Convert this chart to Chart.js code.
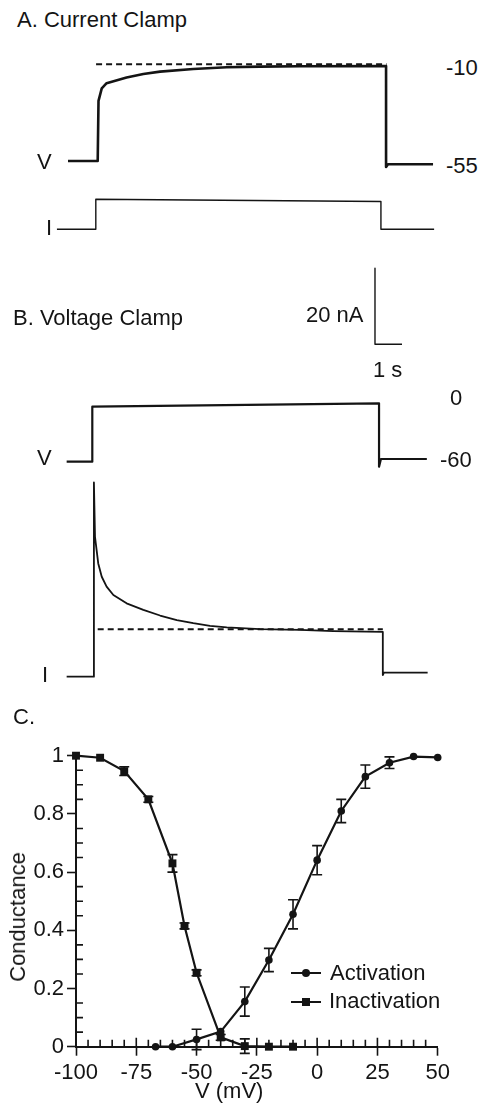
<!DOCTYPE html>
<html>
<head>
<meta charset="utf-8">
<script src="https://cdn.jsdelivr.net/npm/chart.js@4"></script>
<style>
  html, body { margin: 0; padding: 0; background: #fff; }
  #fig { position: relative; width: 486px; height: 1108px; overflow: hidden; background: #fff;
         font-family: "Liberation Sans", Arial, sans-serif; color: #141414; }
  #fig canvas { position: absolute; }
  .lbl { position: absolute; font-size: 22px; line-height: 22px; white-space: nowrap; }
  .rot { transform: translate(-50%, -50%) rotate(-90deg); }
  .lg-line { position: absolute; height: 2px; width: 30px; background: #141414; }
  .lg-dot { position: absolute; width: 8px; height: 8px; border-radius: 50%; background: #141414; }
  .lg-sq { position: absolute; width: 8px; height: 8px; background: #141414; }
</style>
</head>
<body>
<div id="fig">
  <canvas id="chartA" width="405" height="190" style="left:40px;top:50px"></canvas>
  <canvas id="chartB" width="405" height="430" style="left:40px;top:260px"></canvas>
  <canvas id="chartC" width="486" height="373" style="left:0px;top:735px"></canvas>

  <div class="lbl" style="left:17px;top:9px">A. Current Clamp</div>
  <div class="lbl" style="left:446px;top:57px">-10</div>
  <div class="lbl" style="left:446px;top:155px">-55</div>
  <div class="lbl" style="left:37px;top:151px">V</div>
  <div class="lbl" style="left:46px;top:217px">I</div>

  <div class="lbl" style="left:13px;top:307px">B. Voltage Clamp</div>
  <div class="lbl" style="left:306px;top:304px">20 nA</div>
  <div class="lbl" style="left:373px;top:359px">1 s</div>
  <div class="lbl" style="left:450px;top:387px">0</div>
  <div class="lbl" style="left:440px;top:449px">-60</div>
  <div class="lbl" style="left:37px;top:447px">V</div>
  <div class="lbl" style="left:42px;top:664px">I</div>

  <div class="lbl" style="left:13px;top:706px">C.</div>
  <div class="lbl rot" style="left:18px;top:917px">Conductance</div>
  <div class="lbl" style="left:195px;top:1080px">V (mV)</div>

  <div class="lg-line" style="left:291px;top:972px"></div>
  <div class="lg-dot" style="left:302px;top:969px"></div>
  <div class="lbl" id="lgAct" style="left:330px;top:962px"></div>
  <div class="lg-line" style="left:291px;top:1001px"></div>
  <div class="lg-sq" style="left:302px;top:998px"></div>
  <div class="lbl" id="lgInact" style="left:329px;top:990px"></div>
</div>

<script>
// A. current clamp (time in s, V in mV, I in nA)
const ccVoltT = [-1.10, 0, 0.03, 0.15, 0.33, 1.07, 1.69, 2.31, 3.54, 4.78, 6.01, 7.49, 10.68, 10.68, 10.75, 12.42];
const ccVoltV = [-55, -55, -27, -21.2, -18.8, -16.1, -14.5, -13.4, -12.2, -11.4, -11.1, -10.9, -10.8, -57.8, -56.5, -56.5];
const ccRefT = [-0.06, 10.7];
const ccRefV = [-10, -10];
const ccCurT = [-1.51, -0.07, -0.07, 10.49, 10.49, 12.46];
const ccCurI = [0, 0, 7.9, 7.3, 0, 0];

// B. voltage clamp
const vcVoltT = [-0.95, 0, 0, 10.62, 10.62, 10.69, 12.39];
const vcVoltV = [-61.3, -61.3, -1.8, 1.8, -66.7, -58.4, -58.4];
const vcCurT = [-0.95, 0.06, 0.06, 0.10, 0.22, 0.35, 0.53, 0.78, 1.27, 1.89, 2.51, 3.13, 3.74, 4.36, 4.98, 6.21, 7.69, 8.93, 10.76, 10.76, 10.80, 12.42];
const vcCurI = [0, 0, 51.1, 36.8, 29.8, 26.3, 23.7, 21.5, 19.3, 17.6, 16.1, 14.9, 14.1, 13.4, 13.0, 12.5, 12.3, 12.0, 11.8, 0.45, 1.05, 1.05];
const vcRefT = [0.2, 10.76];
const vcRefI = [12.5, 12.5];
const scaleBarT = [10.47, 10.47, 11.47];   // 1 s
const scaleBarI = [107.5, 87.5, 87.5];     // 20 nA

// C. conductance vs voltage
const seriesNames = ['Activation', 'Inactivation'];
const actV = [-67, -60, -50, -40, -30, -20, -10, 0, 10, 20, 30, 40, 50];
const activation = [0, 0, 0.025, 0.052, 0.155, 0.298, 0.455, 0.641, 0.81, 0.928, 0.976, 0.997, 0.994];
const activationErr = [0, 0, 0.035, 0, 0.05, 0.04, 0.05, 0.05, 0.04, 0.04, 0.02, 0, 0];
const inactV = [-100, -90, -80, -70, -60, -55, -50, -40, -30, -20, -10];
const inactivation = [1.0, 0.993, 0.947, 0.85, 0.63, 0.415, 0.254, 0.032, 0.002, 0, 0];
const inactivationErr = [0, 0, 0.015, 0.01, 0.03, 0.01, 0.01, 0.01, 0.025, 0, 0];
const xTicks = [-100, -75, -50, -25, 0, 25, 50];
const xTickLabels = ['-100', '-75', '-50', '-25', '0', '25', '50'];
const yTicks = [0, 0.2, 0.4, 0.6, 0.8, 1];
const yTickLabels = ['0', '0.2', '0.4', '0.6', '0.8', '1'];

const ink = '#141414';
const fontFam = '"Liberation Sans", Arial, sans-serif';

function pts(xs, ys) {
    return xs.map((v, i) => ({ x: v, y: ys[i] }));
}

// scale range so that value v1 sits at pixel p1 and v2 at p2 on the page
function rangeX(v1, p1, v2, p2, left, width) {
    const s = (p2 - p1) / (v2 - v1);
    const min = v1 - (p1 - left) / s;
    return { min: min, max: min + width / s };
}
function rangeY(v1, p1, v2, p2, top, height) {
    const s = (p2 - p1) / (v1 - v2);
    const max = v1 + (p1 - top) / s;
    return { min: max - height / s, max: max };
}

function trace(data, axis, width, dash) {
    return {
        data: data, yAxisID: axis, borderColor: ink, borderWidth: width,
        borderDash: dash || [], pointRadius: 0, tension: 0, clip: false,
        borderCapStyle: 'butt', borderJoinStyle: 'round'
    };
}

function traceChart(id, datasets, x, yV, yI) {
    return new Chart(document.getElementById(id), {
        type: 'line',
        data: { datasets: datasets },
        options: {
            responsive: false, animation: false, devicePixelRatio: 1,
            layout: { padding: 0 },
            plugins: { legend: { display: false }, tooltip: { enabled: false } },
            scales: {
                x: Object.assign({ type: 'linear', display: false }, x),
                yV: Object.assign({ type: 'linear', display: false }, yV),
                yI: Object.assign({ type: 'linear', display: false }, yI)
            }
        }
    });
}

// panel A
traceChart('chartA', [
    trace(pts(ccVoltT, ccVoltV), 'yV', 2.6),
    trace(pts(ccRefT, ccRefV), 'yV', 2, [6, 4]),
    trace(pts(ccCurT, ccCurI), 'yI', 1.4)
], rangeX(0, 97.7, 1, 124.7, 40, 405), rangeY(-10, 64.3, -55, 161, 50, 190), rangeY(0, 229.3, 20, 153.3, 50, 190));

// panel B
traceChart('chartB', [
    trace(pts(vcVoltT, vcVoltV), 'yV', 2.2),
    trace(pts(vcCurT, vcCurI), 'yI', 1.8),
    trace(pts(vcRefT, vcRefI), 'yI', 2, [6, 4]),
    trace(pts(scaleBarT, scaleBarI), 'yI', 1.4)
], rangeX(0, 92.3, 1, 119.3, 40, 405), rangeY(0, 405, -60, 460.5, 260, 430), rangeY(0, 676.7, 20, 600.7, 260, 430));

// panel C: error bars and minor ticks
const extraMarks = {
    id: 'extraMarks',
    afterDraw(chart) {
        const ctx = chart.ctx;
        const x = chart.scales.x, y = chart.scales.y;
        const area = chart.chartArea;
        ctx.save();
        ctx.strokeStyle = ink;
        ctx.lineWidth = 1.6;
        chart.data.datasets.forEach(ds => {
            ds.data.forEach((p, i) => {
                const e = ds.errors[i];
                if (!e) return;
                const px = x.getPixelForValue(p.x);
                const top = y.getPixelForValue(p.y + e);
                const bot = y.getPixelForValue(p.y - e);
                ctx.beginPath();
                ctx.moveTo(px, top); ctx.lineTo(px, bot);
                ctx.moveTo(px - 5, top); ctx.lineTo(px + 5, top);
                ctx.moveTo(px - 5, bot); ctx.lineTo(px + 5, bot);
                ctx.stroke();
            });
        });
        ctx.beginPath();
        for (let v = -95; v < 50; v += 5) {
            const px = x.getPixelForValue(v);
            ctx.moveTo(px, area.bottom);
            ctx.lineTo(px, area.bottom - (v % 25 === 0 ? 9 : 7));
        }
        for (let k = 1; k < 20; k++) {
            if (k % 4 === 0) continue;
            const py = y.getPixelForValue(k * 0.05);
            ctx.moveTo(area.left, py);
            ctx.lineTo(area.left + 7, py);
        }
        ctx.stroke();
        ctx.restore();
    }
};

const tickFont = { family: fontFam, size: 22 };

new Chart(document.getElementById('chartC'), {
    type: 'line',
    data: {
        datasets: [{
            label: seriesNames[0],
            data: pts(actV, activation), errors: activationErr,
            borderColor: ink, borderWidth: 2.2, backgroundColor: ink,
            pointStyle: 'circle', pointRadius: 3.8, pointBackgroundColor: ink, pointBorderWidth: 0,
            tension: 0, clip: false
        }, {
            label: seriesNames[1],
            data: pts(inactV, inactivation), errors: inactivationErr,
            borderColor: ink, borderWidth: 2.2, backgroundColor: ink,
            pointStyle: 'rect', pointRadius: 5.6, pointBackgroundColor: ink, pointBorderWidth: 0,
            tension: 0, clip: false
        }]
    },
    options: {
        responsive: false, animation: false, devicePixelRatio: 1,
        layout: { padding: { top: 20.7, right: 48.3, left: 0, bottom: 0 } },
        plugins: { legend: { display: false }, tooltip: { enabled: false } },
        scales: {
            x: {
                type: 'linear', min: -100, max: 50,
                afterBuildTicks: s => { s.ticks = xTicks.map(v => ({ value: v })); },
                afterFit: s => { s.height = 61.3; },
                ticks: { callback: (v, i) => xTickLabels[i], font: tickFont, color: ink, padding: 4, maxRotation: 0, autoSkip: false },
                grid: { drawOnChartArea: false, tickLength: 9, tickColor: ink, tickWidth: 1.6 },
                border: { color: ink, width: 2 }
            },
            y: {
                type: 'linear', min: 0, max: 1,
                afterBuildTicks: s => { s.ticks = yTicks.map(v => ({ value: v })); },
                afterFit: s => { s.width = 76; },
                ticks: { callback: (v, i) => yTickLabels[i], font: tickFont, color: ink, padding: 3, autoSkip: false },
                grid: { drawOnChartArea: false, tickLength: 9, tickColor: ink, tickWidth: 1.6 },
                border: { color: ink, width: 2 }
            }
        }
    },
    plugins: [extraMarks]
});

document.getElementById('lgAct').textContent = seriesNames[0];
document.getElementById('lgInact').textContent = seriesNames[1];
</script>
</body>
</html>
